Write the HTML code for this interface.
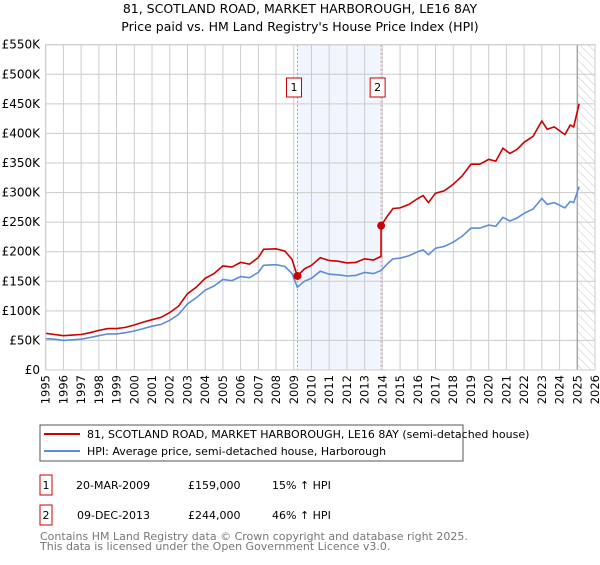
<!DOCTYPE html>
<html><head><meta charset="utf-8"><style>
body{margin:0;background:#fff;font-family:"Liberation Sans","DejaVu Sans",sans-serif;}
</style></head><body>
<svg id="chart" width="600" height="560" viewBox="0 0 600 560" xmlns="http://www.w3.org/2000/svg" font-family="DejaVu Sans, Liberation Sans, sans-serif">
<defs><pattern id="hatch" width="6" height="6" patternUnits="userSpaceOnUse" patternTransform="rotate(-45)"><line x1="0" y1="0" x2="0" y2="6" stroke="#bbb" stroke-width="0.8"/></pattern></defs>
<text x="300" y="13" text-anchor="middle" font-size="12.5" fill="#000">81, SCOTLAND ROAD, MARKET HARBOROUGH, LE16 8AY</text>
<text x="300" y="31" text-anchor="middle" font-size="12.5" fill="#000">Price paid vs. HM Land Registry's House Price Index (HPI)</text>
<g id="plot"></g>
<g>
<rect x="40" y="425" width="423" height="36" fill="#fff" stroke="#555"/>
<line x1="44" y1="434" x2="80" y2="434" stroke="#cc0000" stroke-width="2"/>
<text x="87" y="438" font-size="11">81, SCOTLAND ROAD, MARKET HARBOROUGH, LE16 8AY (semi-detached house)</text>
<line x1="44" y1="451" x2="80" y2="451" stroke="#5b8ed6" stroke-width="2"/>
<text x="87" y="455" font-size="11">HPI: Average price, semi-detached house, Harborough</text>
</g>
<g font-size="11">
<rect x="40" y="475" width="12" height="20" fill="#fff" stroke="#cc0000"/>
<text x="46" y="489" text-anchor="middle">1</text>
<text x="76" y="489">20-MAR-2009</text>
<text x="188" y="489">£159,000</text>
<text x="272" y="489">15% ↑ HPI</text>
<rect x="40" y="505" width="12" height="20" fill="#fff" stroke="#cc0000"/>
<text x="46" y="519" text-anchor="middle">2</text>
<text x="77" y="519">09-DEC-2013</text>
<text x="188" y="519">£244,000</text>
<text x="272" y="519">46% ↑ HPI</text>
</g>
<text x="40" y="540" font-size="11" fill="#777">Contains HM Land Registry data © Crown copyright and database right 2025.</text>
<text x="40" y="550" font-size="11" fill="#777">This data is licensed under the Open Government Licence v3.0.</text>
</svg>
<script>
const years = [];
for (let y = 1995; y <= 2026; y++) years.push(y);
const yTicks = [0,50000,100000,150000,200000,250000,300000,350000,400000,450000,500000,550000];
const yTickLabels = ["£0","£50K","£100K","£150K","£200K","£250K","£300K","£350K","£400K","£450K","£500K","£550K"];
const hpiDates = [1995.0,1995.5,1996.0,1996.5,1997.0,1997.5,1998.0,1998.5,1999.0,1999.5,2000.0,2000.5,2001.0,2001.5,2002.0,2002.5,2003.0,2003.5,2004.0,2004.5,2005.0,2005.5,2006.0,2006.5,2007.0,2007.3,2008.0,2008.5,2008.9,2009.2,2009.6,2010.0,2010.5,2011.0,2011.5,2012.0,2012.5,2013.0,2013.5,2013.92,2014.3,2014.6,2015.0,2015.5,2016.0,2016.3,2016.6,2017.0,2017.5,2018.0,2018.5,2019.0,2019.5,2020.0,2020.4,2020.8,2021.2,2021.6,2022.0,2022.5,2023.0,2023.3,2023.7,2024.3,2024.6,2024.8,2025.1];
const hpiValues = [53,52,50,51,52,55,58,61,61,63,66,70,74,77,84,94,112,122,135,142,153,151,158,156,165,177,178,175,163,140,150,155,167,162,161,159,160,165,163,168,180,188,189,193,200,203,195,206,209,216,226,240,240,245,243,258,252,257,265,272,290,280,283,274,285,283,310];
const priceDates = [1995.0,1995.5,1996.0,1996.5,1997.0,1997.5,1998.0,1998.5,1999.0,1999.5,2000.0,2000.5,2001.0,2001.5,2002.0,2002.5,2003.0,2003.5,2004.0,2004.5,2005.0,2005.5,2006.0,2006.5,2007.0,2007.3,2008.0,2008.5,2008.9,2009.2,2009.6,2010.0,2010.5,2011.0,2011.5,2012.0,2012.5,2013.0,2013.5,2013.92,2013.93,2014.3,2014.6,2015.0,2015.5,2016.0,2016.3,2016.6,2017.0,2017.5,2018.0,2018.5,2019.0,2019.5,2020.0,2020.4,2020.8,2021.2,2021.6,2022.0,2022.5,2023.0,2023.3,2023.7,2024.3,2024.6,2024.8,2025.1];
const priceValues = [62,60,58,59,60,63,67,70,70,72,76,81,85,89,97,108,129,140,155,163,176,174,182,179,190,204,205,201,187,159,171,177,190,185,184,181,182,188,186,192,244,261,273,274,280,290,295,283,299,303,314,328,348,348,356,353,375,366,373,385,395,421,407,411,398,414,411,450];
const saleDates = [2009.21, 2013.93];
const saleValues = [159000, 244000];
const saleLabels = ["1","2"];

const NS = "http://www.w3.org/2000/svg";
const X0 = 45.7, X1 = 595, Y0 = 370, Y1 = 44.7;
const xs = d => X0 + (d - 1995) / (2026 - 1995) * (X1 - X0);
const ys = v => Y0 - v / 550000 * (Y0 - Y1);
const plot = document.getElementById('plot');
function mk(tag, attrs, parent) {
  const e = document.createElementNS(NS, tag);
  for (const k in attrs) e.setAttribute(k, attrs[k]);
  (parent || plot).appendChild(e);
  return e;
}
const span = mk('rect', {x: xs(saleDates[0]), y: Y1, width: xs(saleDates[1]) - xs(saleDates[0]), height: Y0 - Y1, fill: '#eef3fc', opacity: 0.8});


const hz = mk('rect', {x: xs(2025.0), y: Y1, width: X1 - xs(2025.0), height: Y0 - Y1, fill: 'url(#hatch)'});


years.forEach(y => {
  const l = mk('line', {x1: xs(y), x2: xs(y), y1: Y1, y2: Y0, stroke: '#ccc', 'stroke-width': 1});
  
  
  const t = mk('text', {x: 0, y: 0, 'font-size': 11.5, 'text-anchor': 'end', transform: `translate(${xs(y) + 4},375) rotate(-90)`});
  t.textContent = y;
  
  
});
yTicks.forEach((v, i) => {
  const l = mk('line', {x1: X0, x2: X1, y1: ys(v), y2: ys(v), stroke: '#ccc', 'stroke-width': 1});
  
  
  const t = mk('text', {x: 40, y: ys(v) + 4, 'font-size': 12, 'text-anchor': 'end'});
  t.textContent = yTickLabels[i];
  
  
});
const nowL = mk('line', {x1: xs(2025.0), x2: xs(2025.0), y1: Y1, y2: Y0, stroke: '#999', 'stroke-width': 1.2});


saleDates.forEach((d, i) => {
  const l = mk('line', {x1: xs(d), x2: xs(d), y1: Y1, y2: Y0, stroke: '#f08080', 'stroke-width': 1, 'stroke-dasharray': '2,2'});
  
  
  const r = mk('rect', {x: xs(d) - 11, y: 78, width: 15, height: 19, fill: '#fff', stroke: '#cc0000'});
  
  
  const t = mk('text', {x: xs(d) - 3.5, y: 91, 'font-size': 11, 'text-anchor': 'middle'});
  t.textContent = saleLabels[i];
  
  
});
function linePath(dates, vals) {
  return dates.map((d, i) => (i ? 'L' : 'M') + xs(d).toFixed(1) + ',' + ys(vals[i] * 1000).toFixed(1)).join('');
}
const hp = mk('path', {d: linePath(hpiDates, hpiValues), fill: 'none', stroke: '#5b8ed6', 'stroke-width': 1.6});


const pp = mk('path', {d: linePath(priceDates, priceValues), fill: 'none', stroke: '#cc0000', 'stroke-width': 1.6});


saleDates.forEach((d, i) => {
  const c = mk('circle', {cx: xs(d), cy: ys(saleValues[i]), r: 4, fill: '#cc0000'});
  
  
});
const frame = mk('rect', {x: X0, y: Y1, width: X1 - X0, height: Y0 - Y1, fill: 'none', stroke: '#ccc'});


</script>
</body></html>
